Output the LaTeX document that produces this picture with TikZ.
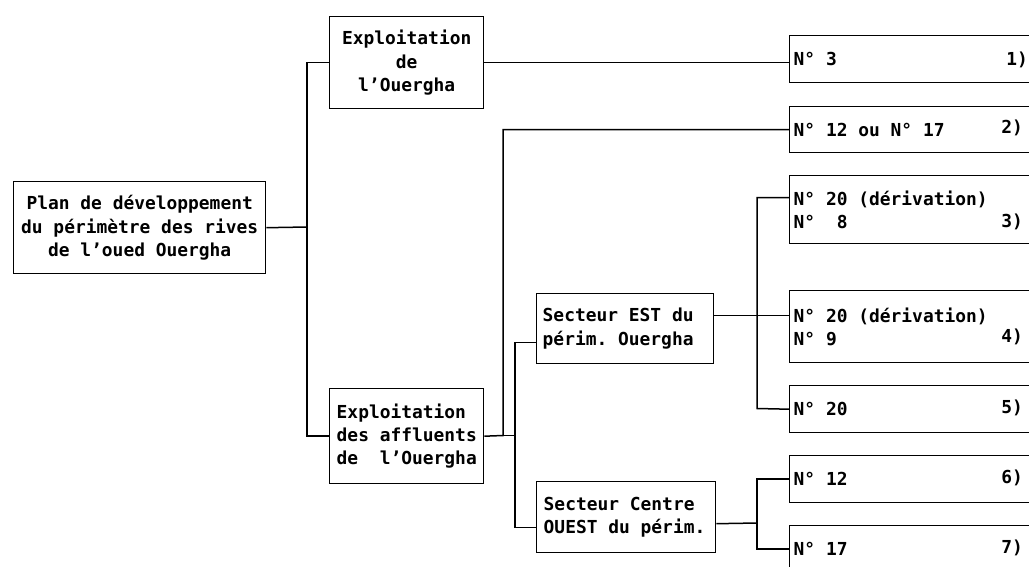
\documentclass[tikz,border=0pt]{standalone}
\usepackage{fontspec}
\setmonofont{DejaVu Sans Mono}
\newcommand{\sk}{\hspace*{0.602em}}
\begin{document}
\begin{tikzpicture}[x=1pt,y=-1pt,
  txt/.style={font=\ttfamily\bfseries\fontsize{17.9}{23.3}\selectfont},
  box/.style={txt,draw,line width=1.4pt,inner ysep=0pt,anchor=north west},
  rbox/.style={box,minimum width=256pt,text width=248pt,inner xsep=4pt,align=left},
  conn/.style={line width=1.5pt},
  num/.style={txt,anchor=east,inner sep=0pt}]
\useasboundingbox (0,0) rectangle (1029,566);
\clip (0,0) rectangle (1029,566);
% left and middle boxes
\node[box,minimum width=252pt,minimum height=92pt,text width=240pt,align=center] (plan) at (13,181)
  {Plan\sk de\sk développement\\du\sk périmètre\sk des\sk rives\\de\sk l’oued\sk Ouergha};
\node[box,minimum width=154pt,minimum height=92pt,text width=142pt,align=center] (A) at (329,16)
  {Exploitation\\de\\l’Ouergha};
\node[box,minimum width=154pt,minimum height=95pt,text width=140pt,inner xsep=7pt,align=left] (B) at (329,388)
  {Exploitation\\des\sk affluents\\de\sk\sk l’Ouergha};
\node[box,minimum width=177pt,minimum height=70pt,text width=165pt,inner xsep=6pt,align=left] (est) at (536,293)
  {Secteur\sk EST\sk du\\périm.\sk Ouergha};
\node[box,minimum width=179pt,minimum height=71pt,text width=165pt,inner xsep=7pt,align=left] (cen) at (536,481)
  {Secteur\sk Centre\\OUEST\sk du\sk périm.};
% right boxes
\node[rbox,minimum height=47pt] (r1) at (789,35) {N°\sk 3};
\node[rbox,minimum height=46pt] (r2) at (789,106) {N°\sk 12\sk ou\sk N°\sk 17};
\node[rbox,minimum height=68pt] (r3) at (789,175) {N°\sk 20\sk (dérivation)\\N°\sk\sk 8};
\node[rbox,minimum height=72pt] (r4) at (789,290) {N°\sk 20\sk (dérivation)\\N°\sk 9};
\node[rbox,minimum height=47pt] (r5) at (789,385) {N°\sk 20};
\node[rbox,minimum height=47pt] (r6) at (789,455) {N°\sk 12};
\node[rbox,minimum height=47pt] (r7) at (789,525) {N°\sk 17};
% numbers
\node[num] (n1) at (1028,60) {1)};
\node[num] (n2) at (1023,128) {2)};
\node[num] (n3) at (1023,222) {3)};
\node[num] (n4) at (1023,337) {4)};
\node[num] (n5) at (1023,408) {5)};
\node[num] (n6) at (1023,478) {6)};
\node[num] (n7) at (1023,548) {7)};
% connectors
\coordinate (v1) at (307,227);
\draw[conn] (plan.east) -- (v1);
\draw[conn] (A.west) -| (v1) |- (B.west);
\draw[conn] (A.east) -- (A.east -| r1.west);
\coordinate (j2) at (503,435.5);
\coordinate (j3) at (515,435.5);
\draw[conn] (B.east) -- (j2) |- (r2.west);
\draw[conn] (j2) -- (j3);
\draw[conn] ([yshift=-14pt]est.west) -| (j3);
\draw[conn] ([yshift=-10.5pt]cen.west) -| (j3);
\draw[conn] ([yshift=13pt]est.east) -- ([yshift=13pt]est.east -| r4.west);
\coordinate (v4) at (757,408.5);
\draw[conn] ([yshift=12pt]r3.west) -| (v4) -- (r5.west);
\coordinate (v5) at (757,523);
\draw[conn] ([yshift=-6.5pt]cen.east) -- (v5);
\draw[conn] (r6.west) -| (v5) |- (r7.west);
\end{tikzpicture}
\end{document}
